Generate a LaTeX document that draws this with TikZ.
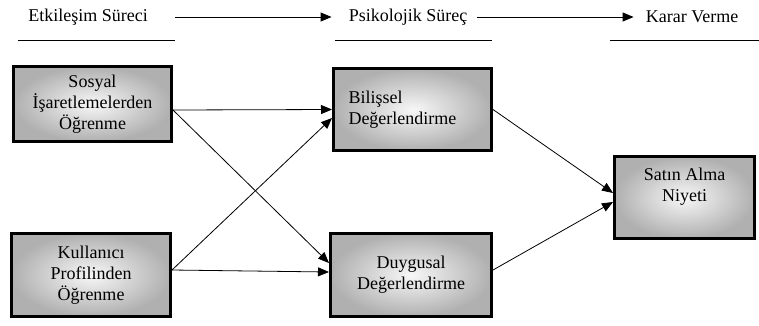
\documentclass[tikz,border=0pt]{standalone}
\usepackage{fontspec}
\setmainfont{Liberation Serif}
\newfontfamily\trfont{Liberation Serif}
\usetikzlibrary{arrows.meta}
\usetikzlibrary{positioning}

\begin{document}
\begin{tikzpicture}[x=1pt,y=-1pt,
  box/.style={rectangle,draw=black,line width=3pt,inner color=gray!6,outer color=gray!62,font=\trfont\fontsize{18}{21}\selectfont,align=center},
  hdr/.style={font=\trfont\fontsize{18}{21}\selectfont,inner sep=0pt},
  conn/.style={-{Triangle[length=11pt,width=9pt]},line width=0.8pt},
  hdrarrow/.style={-{Triangle[length=11pt,width=9pt]},line width=1pt},
  uline/.style={line width=1pt}]
\useasboundingbox (0,0) rectangle (759,325);
% headers
\node[hdr] (etk) at (88,17) {Etkileşim Süreci};
\node[hdr] (psk) at (408,17) {Psikolojik Süreç};
\node[hdr] (kar) at (692,17) {Karar Verme};
\draw[hdrarrow,shorten <=27pt,shorten >=17pt] (etk) -- (psk);
\draw[hdrarrow,shorten <=10pt,shorten >=12pt] (psk) -- (kar);
\draw[uline] (18,40) -- (175,40);
\draw[uline] (335,40) -- (492,40);
\draw[uline] (610,40) -- (759,40);

% boxes
\node[box,minimum width=158pt,minimum height=75pt] (sos) at (92.5,104) {Sosyal\\İşaretlemelerden\\Öğrenme};
\node[box,minimum width=159pt,minimum height=83pt] (kul) at (91,275) {Kullanıcı\\Profilinden\\Öğrenme};
\node[box,minimum width=158pt,minimum height=82pt,align=left,text width=128pt] (bil) at (412.5,109.5) {Bilişsel\\Değerlendirme\\[6pt]};
\node[box,minimum width=161pt,minimum height=83pt] (duy) at (411,275) {Duygusal\\Değerlendirme};
\node[box,minimum width=140pt,minimum height=82pt] (sat) at (684.5,197.5) {Satın Alma\\Niyeti\\[4pt]};

% connectors
\draw[conn] ([yshift=-6pt]sos.east) -- (bil.west);
\draw[conn] ([yshift=-6pt]sos.east) -- ([yshift=12pt]duy.west);
\draw[conn] ([yshift=5pt]kul.east) -- ([yshift=-8.5pt]bil.west);
\draw[conn] ([yshift=5pt]kul.east) -- ([yshift=3pt]duy.west);
\draw[conn] (bil.east) -- ([yshift=4.5pt]sat.west);
\draw[conn] ([yshift=5pt]duy.east) -- ([yshift=-4.5pt]sat.west);
\end{tikzpicture}
\end{document}
